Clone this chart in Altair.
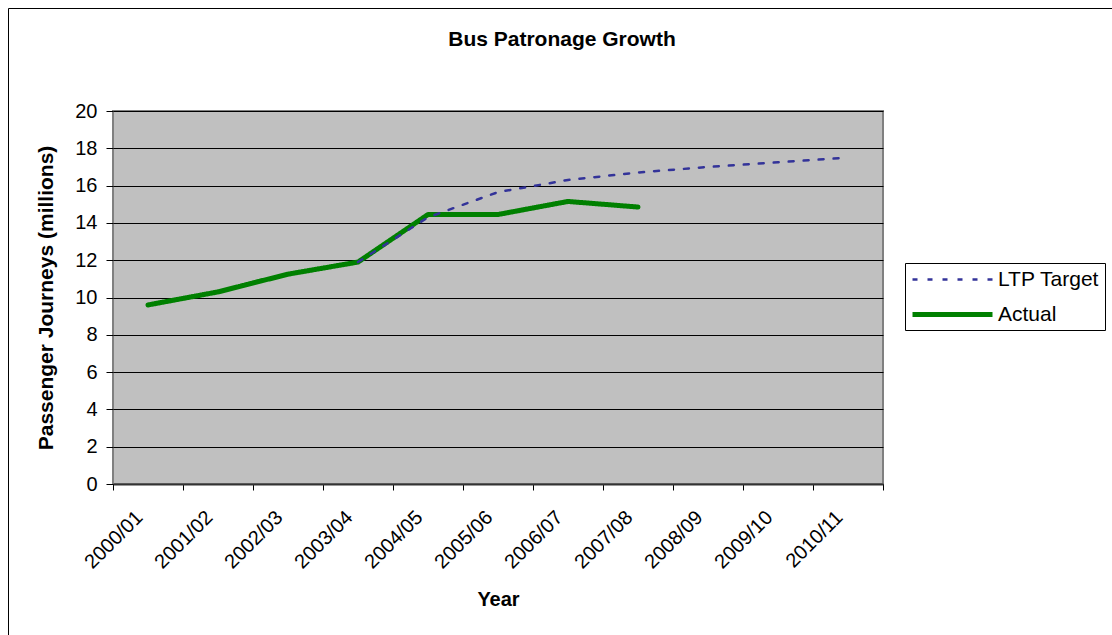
import altair as alt
import pandas as pd

# Financial years on the category axis
years = ["2000/01", "2001/02", "2002/03", "2003/04", "2004/05", "2005/06",
         "2006/07", "2007/08", "2008/09", "2009/10", "2010/11"]

# Passenger journeys (millions)
actual_years = years[:8]
actual = [9.6, 10.3, 11.25, 11.9, 14.45, 14.45, 15.15, 14.85]

target_years = years[3:]
target = [11.9, 14.3, 15.65, 16.3, 16.7, 17.0, 17.25, 17.5]

series_order = ["LTP Target", "Actual"]
series_colors = ["#333399", "#008000"]
series_dash = [[5, 10], [1, 0]]
series_width = [2.5, 5]

rows = [{"year": y, "value": v, "series": "Actual"} for y, v in zip(actual_years, actual)]
rows += [{"year": y, "value": v, "series": "LTP Target"} for y, v in zip(target_years, target)]
df = pd.DataFrame(rows)

chart_title = ["Bus Patronage Growth"]

FONT = "Liberation Sans"
FS = 20

W, H = 770, 373
PAD = {"left": 113, "top": 111, "right": 1112 - 113 - W, "bottom": 635 - 111 - H}

x_enc = alt.X(
    "year:O",
    sort=years,
    bandPosition=0.5,
    scale=alt.Scale(type="band", domain=years, paddingInner=0, paddingOuter=0),
    axis=alt.Axis(
        title="Year",
        labelAngle=-45,
        labelAlign="right",
        labelBaseline="middle",
        labelOffset=-9,
        labelPadding=24,
        tickBand="extent",
        tickSize=6,
        tickColor="black",
        domainColor="#333333",
        domainWidth=2,
        labelFont=FONT,
        labelFontSize=FS,
        labelColor="black",
        titleFont=FONT,
        titleFontSize=FS,
        titleFontWeight="bold",
        titleColor="black",
        titleY=121,
        titleBaseline="alphabetic",
        grid=False,
    ),
)

y_enc = alt.Y(
    "value:Q",
    scale=alt.Scale(domain=[0, 20], nice=False),
    axis=alt.Axis(
        title="Passenger Journeys (millions)",
        values=list(range(0, 21, 2)),
        tickSize=7,
        tickColor="black",
        domain=False,
        grid=True,
        gridColor="black",
        gridWidth=1,
        labelFont=FONT,
        labelFontSize=FS,
        labelColor="black",
        labelPadding=9,
        titleFont=FONT,
        titleFontSize=21,
        titleFontWeight="bold",
        titleColor="black",
        titleX=-57,
        titleY=H / 2,
    ),
)

lines = alt.Chart(df).mark_line(strokeCap="round", strokeJoin="round").encode(
    x=x_enc,
    y=y_enc,
    color=alt.Color(
        "series:N",
        scale=alt.Scale(domain=series_order, range=series_colors),
        legend=alt.Legend(
            title=None,
            orient="none",
            legendX=792,
            legendY=152,
            # wide horizontal stroke as the legend key
            symbolType="M-4,0H4",
            symbolSize=400,
            symbolOffset=30,
            symbolFillColor="transparent",
            labelFont=FONT,
            labelFontSize=21,
            labelColor="black",
            labelOffset=33,
            padding=5,
            rowPadding=12,
            strokeColor="black",
            fillColor="white",
        ),
    ),
    strokeDash=alt.StrokeDash("series:N", scale=alt.Scale(domain=series_order, range=series_dash)),
    strokeWidth=alt.StrokeWidth("series:N", scale=alt.Scale(domain=series_order, range=series_width)),
    order=alt.Order("year:O"),
)

# Chart heading, centred over the whole figure
heading = alt.Chart(pd.DataFrame({"t": chart_title})).mark_text(
    font=FONT, fontSize=21, fontWeight="bold", color="black", baseline="middle", align="center"
).encode(text="t:N", x=alt.value(449), y=alt.value(-71))

# Outer frame around the whole figure
frame = alt.Chart(pd.DataFrame({"k": [0]})).mark_rect(
    fill=None, stroke="black", strokeWidth=1
).encode(
    x=alt.value(8.5 - 113),
    x2=alt.value(1112 - 113 + 20),
    y=alt.value(8.5 - 111),
    y2=alt.value(635 - 111 + 20),
)

chart = alt.layer(lines, heading, frame).properties(
    width=W,
    height=H,
    autosize=alt.AutoSizeParams(type="none"),
    padding=PAD,
    background="white",
).configure_view(
    fill="#C0C0C0",
    stroke="#808080",
    strokeWidth=2,
)

chart.save("out.html", embed_options={"renderer": "svg", "actions": False})
